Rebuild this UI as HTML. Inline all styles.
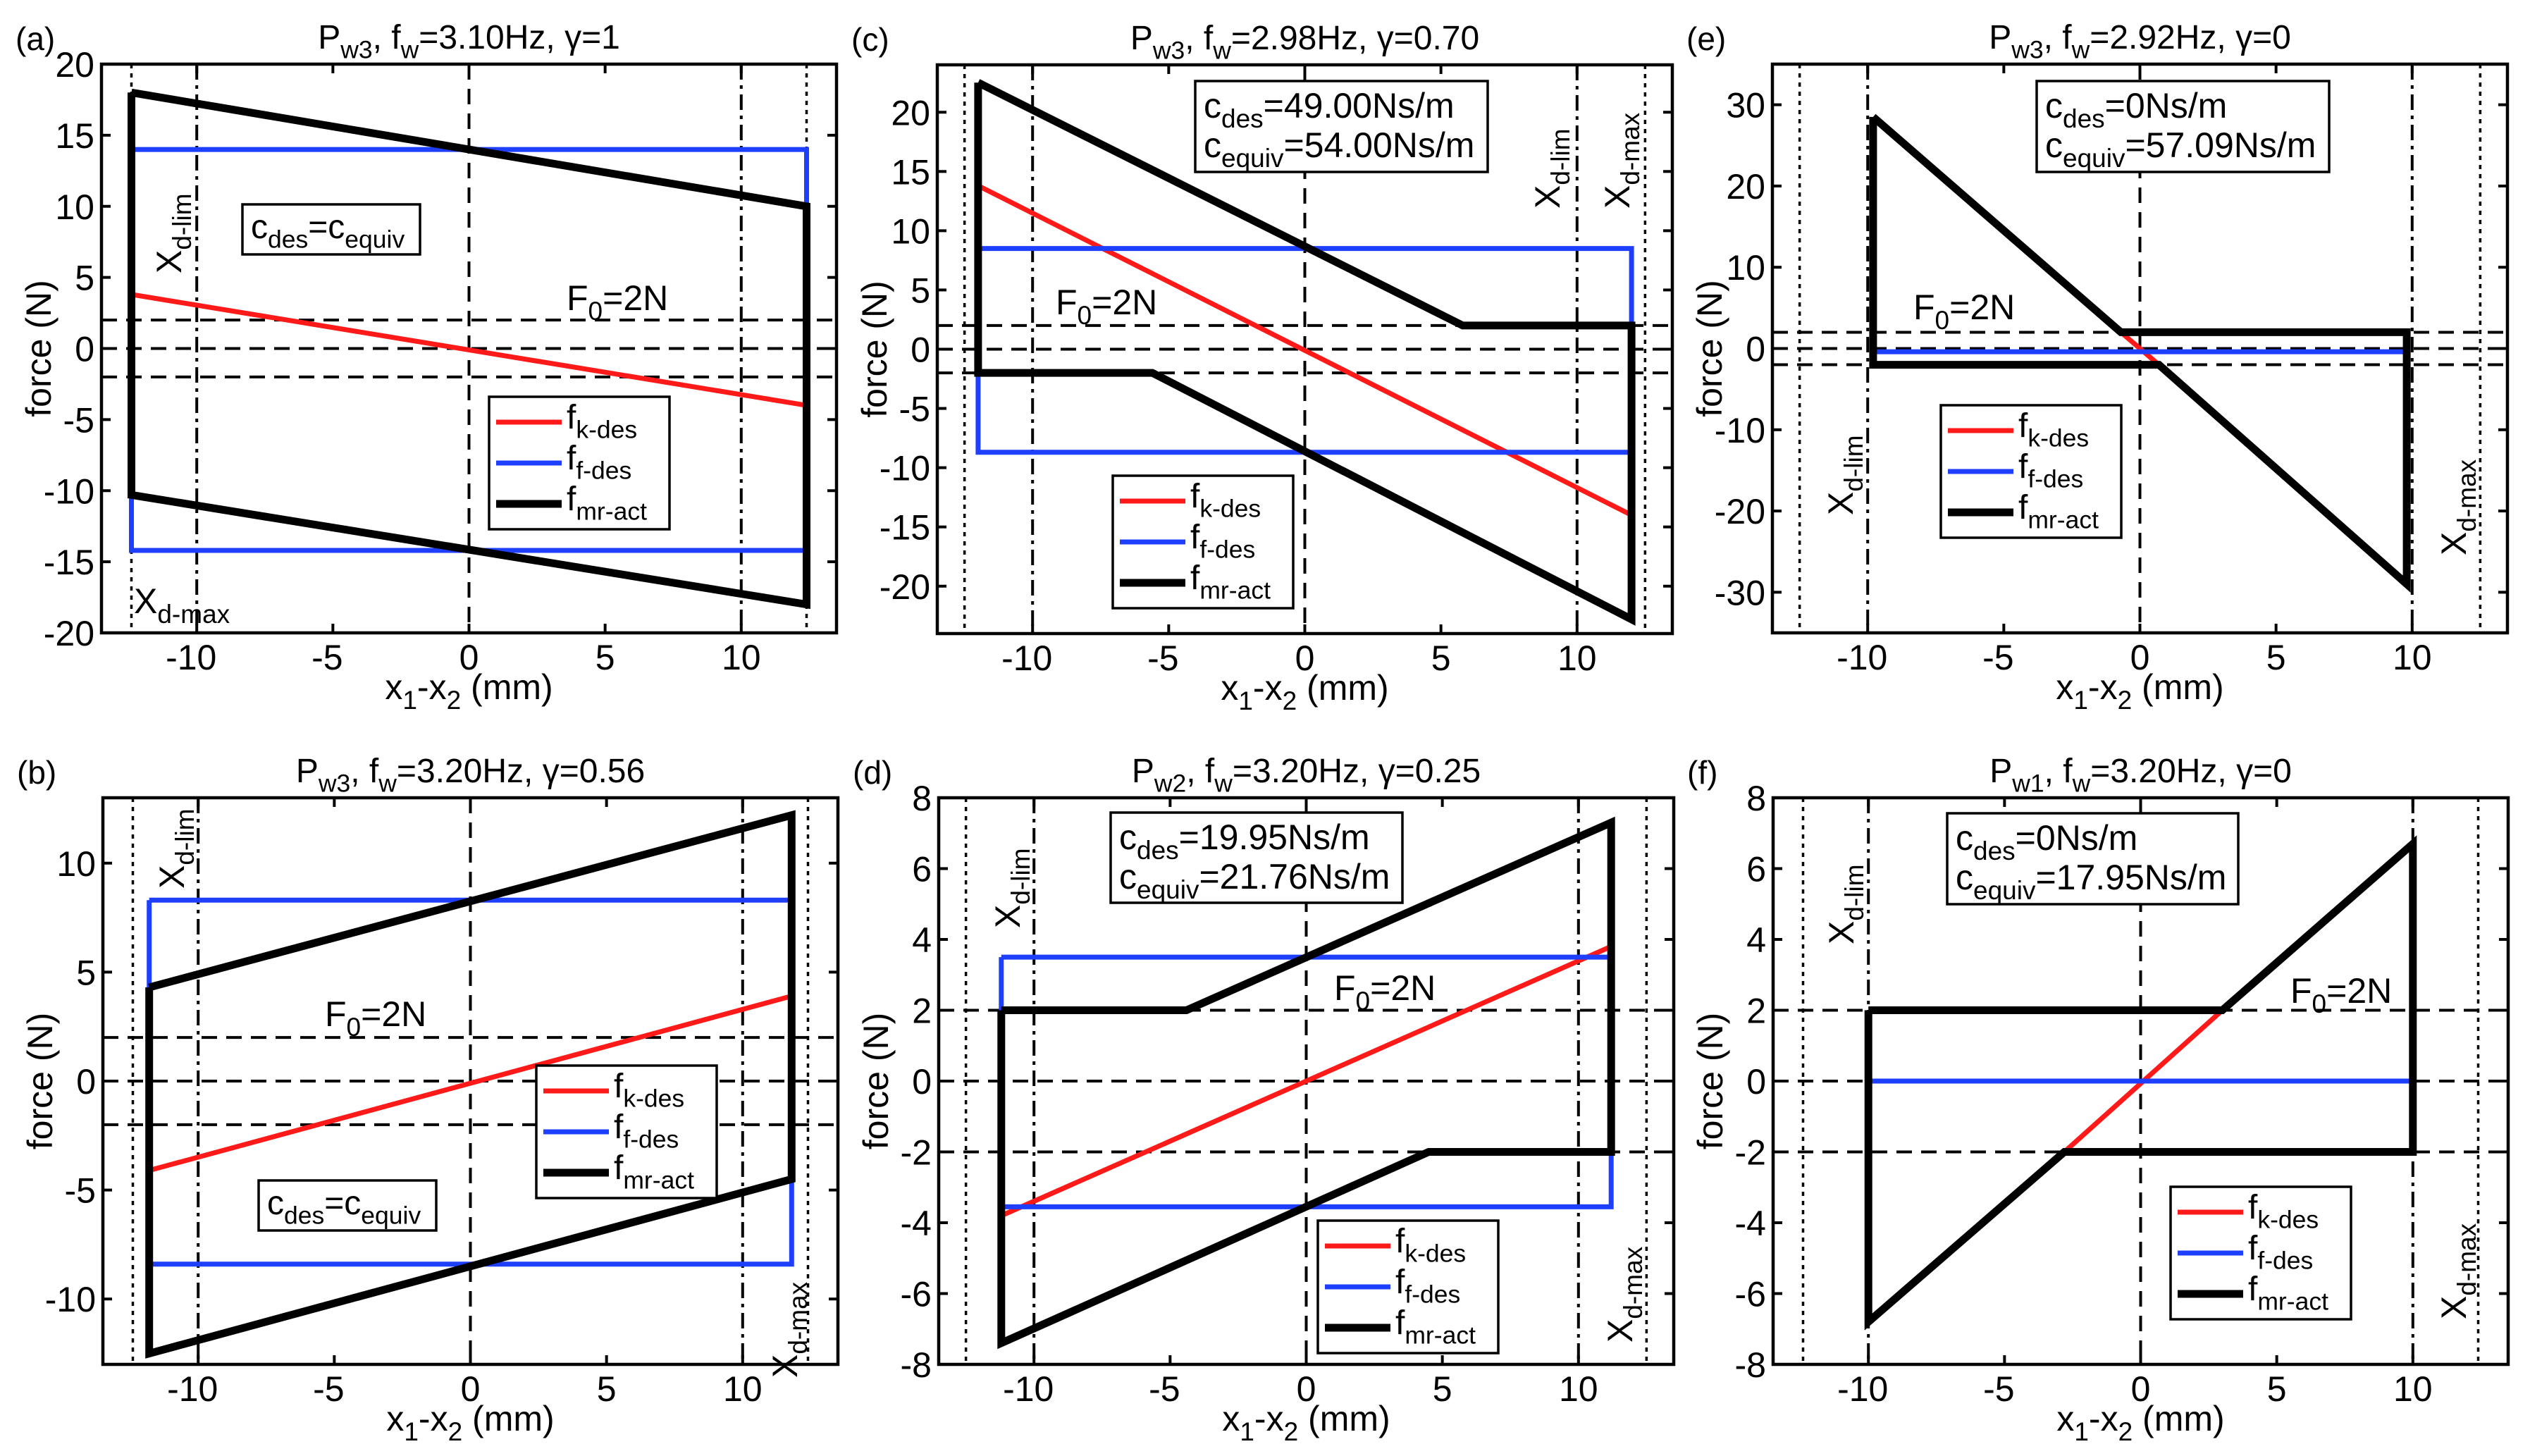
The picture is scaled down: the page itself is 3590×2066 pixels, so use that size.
<!DOCTYPE html>
<html><head><meta charset="utf-8">
<style>
html,body{margin:0;padding:0;background:#fff;}
svg{display:block;font-family:"Liberation Sans",Arial,sans-serif;}
</style></head>
<body>
<svg id="fig" xmlns="http://www.w3.org/2000/svg" width="3590" height="2066" viewBox="0 0 3590 2066"></svg>
<script>
// ---- data ----
const aBlackX=[-12.4,12.4,12.4,-12.4,-12.4];
const aBlackY=[18,10,-18,-10.3,18];
const aBlueX=[-12.4,12.4,12.4,-12.4,-12.4];
const aBlueY=[14,14,-14.2,-14.2,14];
const aRedX=[-12.4,12.4];
const aRedY=[3.8,-4];

const cBlackX=[-12,5.8,12,12,-5.6,-12,-12];
const cBlackY=[22.5,2,2,-22.8,-2,-2,22.5];
const cBlueX=[-12,12,12,-12,-12];
const cBlueY=[8.5,8.5,-8.7,-8.7,8.5];
const cRedX=[-12,12];
const cRedY=[13.8,-14];

const eBlackX=[-9.8,-0.7,9.8,9.8,0.7,-9.8,-9.8];
const eBlackY=[28.5,2,2,-29,-2,-2,28.5];
const eBlueX=[-9.8,9.8];
const eBlueY=[-0.4,-0.4];
const eRedX=[-0.7,0.7];
const eRedY=[2,-2];

const bBlackX=[-11.8,11.8,11.8,-11.8,-11.8];
const bBlackY=[4.3,12.2,-4.5,-12.5,4.3];
const bBlueX=[-11.8,11.8,11.8,-11.8,-11.8];
const bBlueY=[8.3,8.3,-8.4,-8.4,8.3];
const bRedX=[-11.8,11.8];
const bRedY=[-4.1,3.9];

const dBlackX=[-11.2,-4.4,11.2,11.2,4.5,-11.2,-11.2];
const dBlackY=[2,2,7.3,-2,-2,-7.4,2];
const dBlueX=[-11.2,11.2,11.2,-11.2,-11.2];
const dBlueY=[3.5,3.5,-3.55,-3.55,3.5];
const dRedX=[-11.2,11.2];
const dRedY=[-3.8,3.8];

const fBlackX=[-10,3,10,10,-2.8,-10,-10];
const fBlackY=[2,2,6.7,-2,-2,-6.8,2];
const fBlueX=[-10,10];
const fBlueY=[0,0];
const fRedX=[-2.8,3];
const fRedY=[-2,2];

const xTicks=[-10,-5,0,5,10];
const yTicksA=[-20,-15,-10,-5,0,5,10,15,20];
const yTicksC=[-20,-15,-10,-5,0,5,10,15,20];
const yTicksE=[-30,-20,-10,0,10,20,30];
const yTicksB=[-10,-5,0,5,10];
const yTicksD=[-8,-6,-4,-2,0,2,4,6,8];
const yTicksF=[-8,-6,-4,-2,0,2,4,6,8];
const yLimA=[-20,20], yLimC=[-24,24], yLimE=[-35,35], yLimB=[-13,13], yLimD=[-8,8], yLimF=[-8,8];
const xdMax=[12.4,12.5,12.5,12.4,12.5,12.4];
const xdLim=[10,10,10,10,10,10];
const f0=2;

const NS="http://www.w3.org/2000/svg";
const svg=document.getElementById('fig');
function el(tag,attrs,parent){const e=document.createElementNS(NS,tag);for(const k in attrs)e.setAttribute(k,attrs[k]);(parent||svg).appendChild(e);return e;}

const panels=[
 {id:'a',L:144,T:91,H:807,yl:yLimA,yt:yTicksA,bx:aBlackX,by:aBlackY,ux:aBlueX,uy:aBlueY,rx:aRedX,ry:aRedY,
  title:['w3','3.10Hz','1'],leg:[694,563],cbox:{x:344,y:290,w:252,h:71,eq:true},
  f0pos:[804,440],lim:[257,388],max:null,maxH:[190,870]},
 {id:'c',L:1330,T:92,H:807,yl:yLimC,yt:yTicksC,bx:cBlackX,by:cBlackY,ux:cBlueX,uy:cBlueY,rx:cRedX,ry:cRedY,
  title:['w3','2.98Hz','0.70'],leg:[1579,675],cbox:{x:1696,y:115,w:415,h:129,l1:'49.00Ns/m',l2:'54.00Ns/m'},
  f0pos:[1498,446],lim:[2213,296],max:[2312,296]},
 {id:'e',L:2515,T:91,H:807,yl:yLimE,yt:yTicksE,bx:eBlackX,by:eBlackY,ux:eBlueX,uy:eBlueY,rx:eRedX,ry:eRedY,
  title:['w3','2.92Hz','0'],leg:[2754,575],cbox:{x:2890,y:115,w:415,h:129,l1:'0Ns/m',l2:'57.09Ns/m'},
  f0pos:[2715,453],lim:[2629,731],max:[3499,788]},
 {id:'b',L:146,T:1132,H:804,yl:yLimB,yt:yTicksB,bx:bBlackX,by:bBlackY,ux:bBlueX,uy:bBlueY,rx:bRedX,ry:bRedY,
  title:['w3','3.20Hz','0.56'],leg:[761,1512],cbox:{x:367,y:1675,w:252,h:71,eq:true},
  f0pos:[461,1456],lim:[261,1261],max:[1131,1955]},
 {id:'d',L:1332,T:1132,H:804,yl:yLimD,yt:yTicksD,bx:dBlackX,by:dBlackY,ux:dBlueX,uy:dBlueY,rx:dRedX,ry:dRedY,
  title:['w2','3.20Hz','0.25'],leg:[1870,1732],cbox:{x:1576,y:1153,w:414,h:128,l1:'19.95Ns/m',l2:'21.76Ns/m'},
  f0pos:[1893,1419],lim:[1447,1317],max:[2316,1905]},
 {id:'f',L:2516,T:1132,H:804,yl:yLimF,yt:yTicksF,bx:fBlackX,by:fBlackY,ux:fBlueX,uy:fBlueY,rx:fRedX,ry:fRedY,
  title:['w1','3.20Hz','0'],leg:[3080,1684],cbox:{x:2763,y:1154,w:413,h:129,l1:'0Ns/m',l2:'17.95Ns/m'},
  f0pos:[3250,1423],lim:[2630,1340],max:[3499,1872]}
];
const W=1043;

function subText(g,x,y,parts,size,anchor,name){
  const t=el('text',{x:x,y:y,'font-size':size,'text-anchor':anchor||'start',fill:'#000'},g);
  
  
  parts.forEach(p=>{
    const ts=el('tspan',{},t);
    if(p[1]==='sub'){ts.setAttribute('font-size',size*0.74);ts.setAttribute('dy',size*0.28);}
    else if(p[2]){ts.setAttribute('dy',-size*0.28);}
    ts.textContent=p[0];
  });
  return t;
}

panels.forEach((p,i)=>{
  const g=el('g',{});
  
  
  const sx=v=>p.L+(v+13.5)/27*W;
  const sy=v=>p.T+(p.yl[1]-v)/(p.yl[1]-p.yl[0])*p.H;
  const B=p.T+p.H, R=p.L+W;
  const clipId='clip'+p.id;
  const cp=el('clipPath',{id:clipId},g);el('rect',{x:p.L,y:p.T,width:W,height:p.H},cp);
  const pg=el('g',{'clip-path':'url(#'+clipId+')'},g);
  [-xdMax[i],xdMax[i]].forEach(v=>{const l=el('line',{x1:sx(v),x2:sx(v),y1:p.T,y2:B,stroke:'#000','stroke-width':3.5,'stroke-dasharray':'6 7'},pg);
    });
  [-xdLim[i],xdLim[i]].forEach(v=>{const l=el('line',{x1:sx(v),x2:sx(v),y1:p.T,y2:B,stroke:'#000','stroke-width':4,'stroke-dasharray':'22 8 5 8'},pg);
    });
  {const l=el('line',{x1:sx(0),x2:sx(0),y1:p.T,y2:B,stroke:'#000','stroke-width':4,'stroke-dasharray':'22 13'},pg);
    }
  [f0,0,-f0].forEach(v=>{const l=el('line',{x1:p.L,x2:R,y1:sy(v),y2:sy(v),stroke:'#000','stroke-width':4,'stroke-dasharray':'22 13'},pg);
    });
  const pts=(xs,ys)=>xs.map((x,k)=>sx(x).toFixed(1)+','+sy(ys[k]).toFixed(1)).join(' ');
  const red=el('polyline',{points:pts(p.rx,p.ry),fill:'none',stroke:'#ff1a1a','stroke-width':7},pg);
  
  const blue=el('polyline',{points:pts(p.ux,p.uy),fill:'none',stroke:'#1f3fff','stroke-width':7},pg);
  
  const blk=el('polyline',{points:pts(p.bx,p.by),fill:'none',stroke:'#000','stroke-width':11,'stroke-linejoin':'miter'},pg);
  
  const box=el('rect',{x:p.L,y:p.T,width:W,height:p.H,fill:'none',stroke:'#000','stroke-width':4.5},g);
  
  xTicks.forEach(v=>{
    el('line',{x1:sx(v),x2:sx(v),y1:B,y2:B-13,stroke:'#000','stroke-width':4},g);
    el('line',{x1:sx(v),x2:sx(v),y1:p.T,y2:p.T+13,stroke:'#000','stroke-width':4},g);
    const t=el('text',{x:sx(v)-(v<0?8:0),y:B+52,'font-size':50,'text-anchor':'middle'},g);
    
    t.textContent=v;
  });
  p.yt.forEach(v=>{
    el('line',{x1:p.L,x2:p.L+13,y1:sy(v),y2:sy(v),stroke:'#000','stroke-width':4},g);
    el('line',{x1:R,x2:R-13,y1:sy(v),y2:sy(v),stroke:'#000','stroke-width':4},g);
    const t=el('text',{x:p.L-10,y:sy(v)+18,'font-size':50,'text-anchor':'end'},g);
    
    t.textContent=v;
  });
  subText(g,p.L+W/2,B+94,[['x'],['1','sub'],['-x',null,true],['2','sub'],[' (mm)',null,true]],50,'middle','x-axis-title');
  const yl=el('text',{x:0,y:0,'font-size':50,'text-anchor':'middle',transform:'translate('+(p.L-72)+','+(p.T+p.H/2)+') rotate(-90)'},g);
  
  yl.textContent='force (N)';
  subText(g,p.L+W/2,p.T-22,[['P'],[p.title[0],'sub'],[', f',null,true],['w','sub'],['='+p.title[1]+', γ='+p.title[2],null,true]],48,'middle','panel-title');
  const pl=el('text',{x:p.L-122,y:p.T-20,'font-size':46},g);
  
  pl.textContent='('+p.id+')';
  subText(g,p.f0pos[0],p.f0pos[1],[['F'],['0','sub'],['=2N',null,true]],50,'start','f0-label');
  const rot=(pos,txt,name)=>{
    const gg=el('g',{transform:'translate('+pos[0]+','+pos[1]+') rotate(-90)'},g);
    subText(gg,0,0,[['X'],[txt,'sub']],50,'start',name);
  };
  rot(p.lim,'d-lim','xd-lim-label');
  if(p.max) rot(p.max,'d-max','xd-max-label');
  if(p.maxH) subText(g,p.maxH[0],p.maxH[1],[['X'],['d-max','sub']],50,'start','xd-max-label');
  const c=p.cbox;
  const cr=el('rect',{x:c.x,y:c.y,width:c.w,height:c.h,fill:'#fff',stroke:'#000','stroke-width':3.5},g);
  
  if(c.eq){
    subText(g,c.x+12,c.y+48,[['c'],['des','sub'],['=c',null,true],['equiv','sub']],48,'start','damping-text');
  }else{
    subText(g,c.x+12,c.y+52,[['c'],['des','sub'],['='+c.l1,null,true]],50,'start','c-des-text');
    subText(g,c.x+12,c.y+108,[['c'],['equiv','sub'],['='+c.l2,null,true]],50,'start','c-equiv-text');
  }
  const lx=p.leg[0], ly=p.leg[1];
  const lg=el('g',{},g);
  
  el('rect',{x:lx,y:ly,width:256,height:188,fill:'#fff',stroke:'#000','stroke-width':3.5},lg);
  const items=[['k-des','#ff1a1a',7],['f-des','#1f3fff',7],['mr-act','#000',11]];
  items.forEach((it,k)=>{
    const yy=ly+36+k*58;
    const sl=el('line',{x1:lx+10,x2:lx+103,y1:yy,y2:yy,stroke:it[1],'stroke-width':it[2]},lg);
    
    subText(lg,lx+110,yy+9,[['f'],[it[0],'sub']],48,'start','legend-entry');
  });
});
</script>
</body></html>
